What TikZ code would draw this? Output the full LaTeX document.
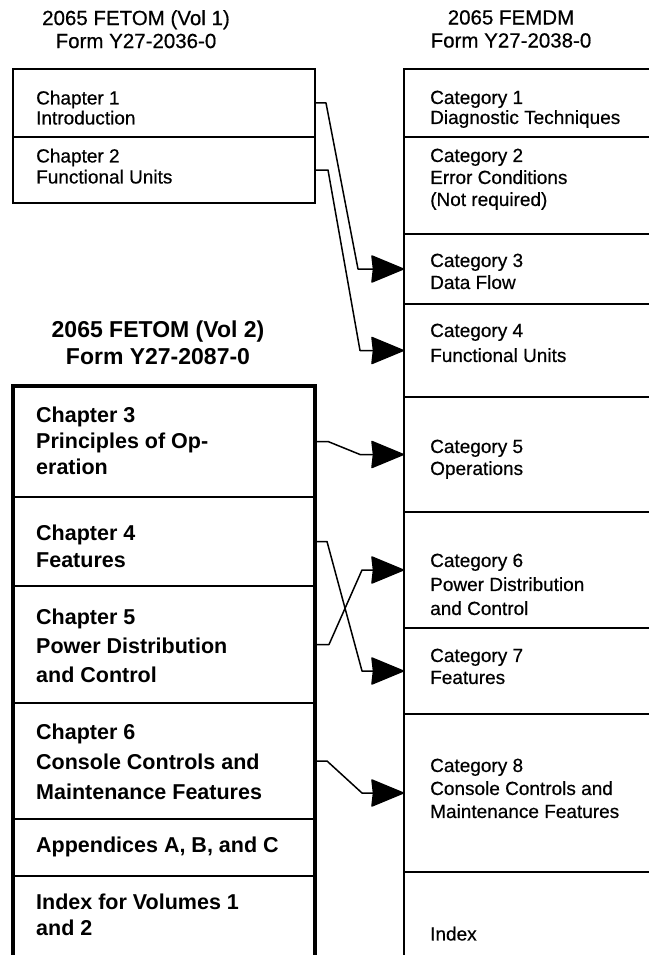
\documentclass[tikz,border=0pt]{standalone}
\usepackage{fontspec}
\setmainfont{Liberation Sans}
\newfontfamily\medfont[FakeBold=0.5]{Liberation Sans}
\usetikzlibrary{arrows.meta,calc}
\tikzset{
  sec/.style={draw, line width=1.5pt, inner sep=0pt, outer sep=0pt, anchor=north west},
  reg/.style={anchor=north west, inner sep=0pt, align=left, font=\medfont\fontsize{19}{22}\selectfont},
  bld/.style={anchor=north west, inner sep=0pt, align=left, font=\fontsize{21.5}{28}\selectfont\bfseries},
  hdr/.style={anchor=north, inner sep=0pt, align=center, font=\medfont\fontsize{20.5}{23}\selectfont},
  hdrb/.style={anchor=north, inner sep=0pt, align=center, font=\fontsize{23}{27}\selectfont\bfseries},
  conn/.style={line width=1.5pt, line join=round, -{Stealth[length=34pt,width=28pt,inset=1.5pt,round]}},
  thickborder/.style={line width=4.5pt, line join=miter}
}
\begin{document}
\begin{tikzpicture}[x=1pt,y=-1pt]
\fill[white] (0,0) rectangle (648,955);
\useasboundingbox (0,0) rectangle (648,955);

% headers
\node[hdr] (h1) at (136,10) {2065 FETOM (Vol 1)\\Form Y27-2036-0};
\node[hdr] (h2) at (511,10) {2065 FEMDM\\Form Y27-2038-0};
\node[hdrb] (h3) at (158,321) {2065 FETOM (Vol 2)\\Form Y27-2087-0};

% top-left box (Vol 1)
\node[sec, minimum width=302pt, minimum height=68pt] (s1) at (13,69) {};
\node[sec, minimum width=302pt, minimum height=66pt] (s2) at (13,137) {};
\node[reg, font=\medfont\fontsize{19}{20}\selectfont] (t1) at (36,90.5) {Chapter 1\\Introduction};
\node[reg, font=\medfont\fontsize{19}{21}\selectfont] (t2) at (36,148.5) {Chapter 2\\Functional Units};

% right column (FEMDM)
\node[sec, minimum width=260pt, minimum height=68pt] (c1) at (404,69) {};
\node[sec, minimum width=260pt, minimum height=97pt] (c2) at (404,137) {};
\node[sec, minimum width=260pt, minimum height=70pt] (c3) at (404,234) {};
\node[sec, minimum width=260pt, minimum height=93pt] (c4) at (404,304) {};
\node[sec, minimum width=260pt, minimum height=115pt] (c5) at (404,397) {};
\node[sec, minimum width=260pt, minimum height=116pt] (c6) at (404,512) {};
\node[sec, minimum width=260pt, minimum height=86pt] (c7) at (404,628) {};
\node[sec, minimum width=260pt, minimum height=158pt] (c8) at (404,714) {};
\node[sec, minimum width=260pt, minimum height=100pt] (c9) at (404,872) {};

\node[reg, font=\medfont\fontsize{19}{20}\selectfont] (u1) at (430,90.5) {Category 1\\Diagnostic Techniques};
\node[reg] (u2) at (430,148.5) {Category 2\\Error Conditions\\(Not required)};
\node[reg] (u3) at (430,253.5) {Category 3\\Data Flow};
\node[reg, font=\medfont\fontsize{19}{25}\selectfont] (u4) at (430,323.5) {Category 4\\Functional Units};
\node[reg] (u5) at (430,439.5) {Category 5\\Operations};
\node[reg, font=\medfont\fontsize{19}{24}\selectfont] (u6) at (430,553.5) {Category 6\\Power Distribution\\and Control};
\node[reg] (u7) at (430,648.5) {Category 7\\Features};
\node[reg, font=\medfont\fontsize{19}{23}\selectfont] (u8) at (430,758.5) {Category 8\\Console Controls and\\Maintenance Features};
\node[reg] (u9) at (430,926.5) {Index};

% thick left box (Vol 2)
\node[sec, minimum width=302pt, minimum height=111pt] (l3) at (13,386) {};
\node[sec, minimum width=302pt, minimum height=89pt] (l4) at (13,497) {};
\node[sec, minimum width=302pt, minimum height=117pt] (l5) at (13,586) {};
\node[sec, minimum width=302pt, minimum height=116pt] (l6) at (13,703) {};
\node[sec, minimum width=302pt, minimum height=57pt] (l7) at (13,819) {};
\node[sec, minimum width=302pt, minimum height=100pt] (l8) at (13,876) {};
\draw[thickborder] (l8.south west) -- (l3.north west) -- (l3.north east) -- (l8.south east);

\node[bld, font=\fontsize{21.5}{26}\selectfont\bfseries] (v3) at (36,407) {Chapter 3\\Principles of Op-\\eration};
\node[bld, font=\fontsize{21.5}{27}\selectfont\bfseries] (v4) at (36,525) {Chapter 4\\Features};
\node[bld, font=\fontsize{21.5}{29}\selectfont\bfseries] (v5) at (36,609) {Chapter 5\\Power Distribution\\and Control};
\node[bld, font=\fontsize{21.5}{30}\selectfont\bfseries] (v6) at (36,724) {Chapter 6\\Console Controls and\\Maintenance Features};
\node[bld] (v7) at (36,837) {Appendices A, B, and C};
\node[bld, font=\fontsize{21.5}{26}\selectfont\bfseries] (v8) at (36,894) {Index for Volumes 1\\and 2};

% connectors
\draw[conn] (s1.east) -- ++(11,0) -- ($(c3.west)+(-46,0)$) -- (c3.west);
\draw[conn] (s2.east) -- ++(13,0) -- ($(c4.west)+(-44,0)$) -- (c4.west);
\draw[conn] (l3.east) -- ++(13,0) -- ($(c5.west)+(-44,0)$) -- (c5.west);
\draw[conn] (l4.east) -- ++(12,0) -- ($(c7.west)+(-42,0)$) -- (c7.west);
\draw[conn] (l5.east) -- ++(14,0) -- ($(c6.west)+(-42,0)$) -- (c6.west);
\draw[conn] (l6.east) -- ++(12,0) -- ($(c8.west)+(-42,0)$) -- (c8.west);
\end{tikzpicture}
\end{document}
